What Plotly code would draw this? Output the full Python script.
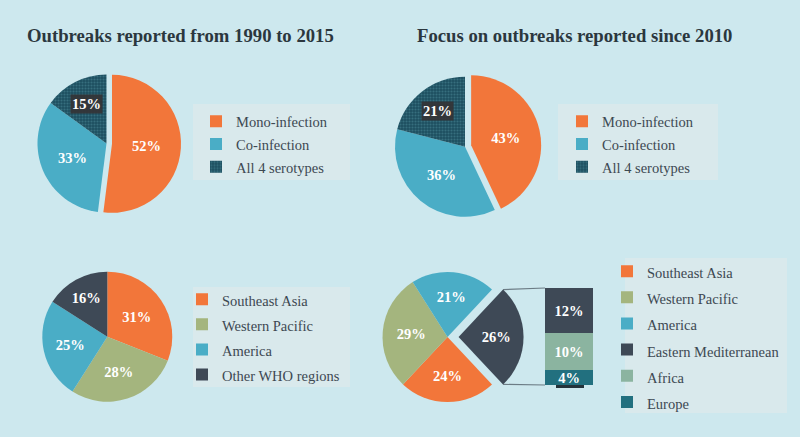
import math
import plotly.graph_objects as go

W, H = 800, 437

# ---------------- data ----------------
serotype_labels = ["Mono-infection", "Co-infection", "All 4 serotypes"]
serotype_1990_2015 = [52, 33, 15]
serotype_since_2010 = [43, 36, 21]

region_labels_1990 = ["Southeast Asia", "Western Pacific", "America", "Other WHO regions"]
region_1990_2015 = [31, 28, 25, 16]

region_labels_2010 = ["Southeast Asia", "Western Pacific", "America", "Eastern Mediterranean"]
region_since_2010 = [24, 29, 21, 26]

other_labels = ["Europe", "Africa", "Eastern Mediterranean"]   # stacked bottom -> top
other_values = [4, 10, 12]

titles = ["Outbreaks reported from 1990 to 2015", "Focus on outbreaks reported since 2010"]

# ---------------- style ----------------
FONT = "Liberation Serif"
BG = "#cde8ee"
BOX = "#d9e9ec"
TXT = "#3d4852"
TITLE = "#2b373e"
ORANGE = "#f2763a"
BLUE = "#4aadc6"
DARKTEAL = "#1d4f60"
SLATE = "#3e4956"
GREEN = "#a4b57e"
SAGE = "#8bb4a0"
EURO = "#22707f"


def px2paper(x, y):
    return x / W, 1 - y / H


def pie_domain(cx, cy, r, pull):
    half = r * (1 + pull)
    return ([(cx - half) / W, (cx + half) / W], [1 - (cy + half) / H, 1 - (cy - half) / H])


def leg_label(s, k=0):
    # k makes the label string unique per legend so pies do not merge their legend entries
    return '<span style="font-size:14.5px%s">%s</span>' % (";" * k, s)


def pct(vals, skip=None):
    return ["" if i == skip else "%d%%" % v for i, v in enumerate(vals)]


fig = go.Figure()

pie_font = dict(family=FONT, size=14.5, color="white", weight="bold")

rot_br = 90 - (sum(region_since_2010[:3]) + region_since_2010[3] / 2) / sum(region_since_2010) * 360
rot_br = (rot_br + 180) % 360 - 180

specs = [
    dict(c=(106.5, 143.5, 69), pull=[0.08, 0, 0], vals=serotype_1990_2015, labs=serotype_labels,
         cols=[ORANGE, BLUE, DARKTEAL], rot=0, legend="legend", box=2, pattern=True),
    dict(c=(465, 146.7, 70), pull=[0.09, 0, 0], vals=serotype_since_2010, labs=serotype_labels,
         cols=[ORANGE, BLUE, DARKTEAL], rot=0, legend="legend2", box=2, pattern=True),
    dict(c=(107.3, 336.7, 65), pull=[0, 0, 0, 0], vals=region_1990_2015, labs=region_labels_1990,
         cols=[ORANGE, GREEN, BLUE, SLATE], rot=0, legend="legend3", box=None, pattern=False),
    dict(c=(447.5, 337, 65), pull=[0, 0, 0, 0.17], vals=region_since_2010, labs=region_labels_2010,
         cols=[ORANGE, GREEN, BLUE, SLATE], rot=rot_br, legend="legend4", box=None, pattern=False),
]

annotations = []
geoms = []
for n, s in enumerate(specs):
    cx, cy, r = s["c"]
    dx, dy = pie_domain(cx, cy, r, max(s["pull"]))
    marker = dict(colors=s["cols"], line=dict(width=0))
    if s["pattern"]:
        marker["pattern"] = dict(shape=["", "", "."], fgcolor="#4f8d9c", size=3,
                                 solidity=0.4, fillmode="overlay")
    fig.add_trace(go.Pie(
        labels=[leg_label(l, n) for l in s["labs"]], values=s["vals"],
        text=pct(s["vals"], s["box"]), textinfo="text", textposition="inside",
        insidetextorientation="horizontal", textfont=pie_font,
        sort=False, direction="clockwise", rotation=s["rot"], pull=s["pull"],
        marker=marker, domain=dict(x=dx, y=dy), legend=s["legend"], hoverinfo="skip",
    ))
    geoms.append((cx, cy, r))
    if s["box"] is not None:
        tot = sum(s["vals"])
        i = s["box"]
        mid = s["rot"] + (sum(s["vals"][:i]) + s["vals"][i] / 2) / tot * 360
        a = math.radians(mid)
        k = 0.645
        x, y = cx + k * r * math.sin(a), cy - k * r * math.cos(a)
        px, py = px2paper(x, y)
        annotations.append(dict(x=px, y=py, xref="paper", yref="paper", text="%d%%" % s["vals"][i],
                                xanchor="center", yanchor="middle",
                                showarrow=False, bgcolor="rgba(52,52,54,0.92)", borderpad=1,
                                font=dict(family=FONT, size=14.5, color="white", weight="bold")))

# ---------------- bar of pie ----------------
bar_cols = [EURO, SAGE, SLATE]
bar_x0, bar_x1, bar_top, bar_bot = 545, 593, 288, 385
shapes = []
# soft shadow under the stacked bar
s0 = px2paper(bar_x0 + 11, bar_bot + 1.5)
s1 = px2paper(bar_x1 - 9, bar_bot + 1.5)
shapes.append(dict(type="line", xref="paper", yref="paper", x0=s0[0], y0=s0[1], x1=s1[0], y1=s1[1],
                   line=dict(color="#24323a", width=3), layer="below"))

for lab, v, col in zip(other_labels, other_values, bar_cols):
    rank = {"Africa": 1001, "Europe": 1002}.get(lab, 1003)
    fig.add_trace(go.Bar(
        x=["Other WHO regions"], y=[v], name=leg_label(lab, 3), marker=dict(color=col, line=dict(width=0)),
        text=["%d%%" % v], textposition="inside", insidetextanchor="middle", textangle=0,
        constraintext="none", textfont=pie_font, legend="legend4", legendrank=rank,
        showlegend=(lab != "Eastern Mediterranean"), hoverinfo="skip", xaxis="x", yaxis="y",
    ))

# connector lines from the pulled slice to the bar
cx, cy, r = geoms[3]
s = specs[3]
tot = sum(s["vals"])
start = s["rot"] + sum(s["vals"][:3]) / tot * 360
end = s["rot"] + 360
midb = math.radians((start + end) / 2)
off = s["pull"][3] * r
for ang, by in ((start, bar_top), (end, bar_bot)):
    a = math.radians(ang)
    x = cx + off * math.sin(midb) + r * math.sin(a)
    y = cy - off * math.cos(midb) - r * math.cos(a)
    p0 = px2paper(x, y)
    p1 = px2paper(bar_x0, by)
    shapes.append(dict(type="line", xref="paper", yref="paper", x0=p0[0], y0=p0[1], x1=p1[0], y1=p1[1],
                       line=dict(color="#6c7c85", width=1.2), layer="below"))

# legend background panels
for (x0, y0, x1, y1) in [(193, 104, 350, 180), (558, 104, 718, 180), (193, 287, 350, 387), (625, 258, 787, 413)]:
    a0 = px2paper(x0, y1)
    a1 = px2paper(x1, y0)
    shapes.append(dict(type="rect", xref="paper", yref="paper", x0=a0[0], y0=a0[1], x1=a1[0], y1=a1[1],
                       fillcolor=BOX, line=dict(width=0), layer="below"))

# titles
for t, x in zip(titles, (25, 415)):
    px, py = px2paper(x, 36)
    annotations.append(dict(x=px, y=py, xref="paper", yref="paper", text=t, showarrow=False,
                            xanchor="left", yanchor="middle",
                            font=dict(family=FONT, size=18.7, color=TITLE, weight="bold")))


def legend_cfg(text_x, first_y, fs):
    h = 1.3 * fs + 3
    top = first_y - 1.5 - 5 - h / 2
    x, y = px2paper(text_x - 40, top)
    return dict(x=x, y=y, xanchor="left", yanchor="top", bgcolor="rgba(0,0,0,0)", borderwidth=0,
                font=dict(family=FONT, size=fs, color=TXT), traceorder="normal")


fig.update_layout(
    width=W, height=H, margin=dict(l=0, r=0, t=0, b=0),
    paper_bgcolor=BG, plot_bgcolor="rgba(0,0,0,0)",
    font=dict(family=FONT),
    barmode="stack", bargap=0,
    xaxis=dict(domain=[bar_x0 / W, bar_x1 / W], range=[-0.5, 0.5], visible=False, fixedrange=True),
    yaxis=dict(domain=[1 - bar_bot / H, 1 - bar_top / H], range=[0, sum(other_values)], visible=False,
               fixedrange=True),
    legend=legend_cfg(236, 122.7, 15.2),
    legend2=legend_cfg(602, 122.7, 15.2),
    legend3=legend_cfg(222, 300.7, 17),
    legend4=legend_cfg(647, 272.7, 17.8),
    annotations=annotations, shapes=shapes, showlegend=True,
)

fig.write_html("out.html", config={"displayModeBar": False},
               post_script="document.body.style.margin='0px';")
